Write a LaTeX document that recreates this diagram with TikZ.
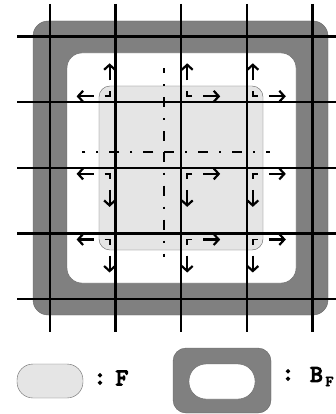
\documentclass[tikz,border=0pt]{standalone}
\usepackage{fontspec}
\newfontfamily\legendfont{lmmono10-regular}[Extension=.otf,FakeBold=5]
\usetikzlibrary{arrows.meta}

\begin{document}
\begin{tikzpicture}[x=1pt,y=-1pt,
  grid line/.style={line width=2.4pt},
  axis line/.style={line width=2.2pt,dash pattern=on 10pt off 11pt on 2pt off 11pt},
  corner mark/.style={line width=1.8pt},
  flow/.style={line width=2.2pt,-{Straight Barb[length=5pt,width=11pt]}},
  legendtext/.style={font=\legendfont\fontsize{24}{24}\selectfont,inner sep=0pt}]
\useasboundingbox (0,0) rectangle (336,414);
% boundary band and domain
\draw[fill=gray,draw=black!60,rounded corners=15pt](33,21) rectangle (328,315);
\draw[fill=white,draw=black!60,rounded corners=15pt](67,53) rectangle (296,283);
\draw[fill=black!10,draw=black!60,rounded corners=11pt](99,86) rectangle (263,250);
% grid
\foreach \i in {0,...,4}{
\draw[grid line]({50+65.6*\i},4)--({50+65.6*\i},332);
\draw[grid line](17,{36.7+65.6*\i})--(336,{36.7+65.6*\i});
}
% symmetry axes
\coordinate (axc) at (164.3,151.7);
\draw[axis line](axc)--(270,151.7);
\draw[axis line](axc)--(164.3,257);
\draw[axis line,dash phase=23pt](axc)--(82,151.7);
\draw[axis line,dash phase=23pt](axc)--(164.3,68);
% corner marks and outward arrows
\foreach \c/\sx in {1/-1,2/1,3/1}
\foreach \r/\sy in {1/-1,2/1,3/1}{
\pgfmathsetmacro\ix{50+65.6*\c}
\pgfmathsetmacro\iy{36.7+65.6*\r}
\draw[corner mark]({\ix+11*\sx},{\iy+6*\sy})--({\ix+6*\sx},{\iy+6*\sy})--({\ix+6*\sx},{\iy+11*\sy});
\draw[flow]({\ix+22*\sx},{\iy+6*\sy})--({\ix+39*\sx},{\iy+6*\sy});
\draw[flow]({\ix+6*\sx},{\iy+22*\sy})--({\ix+6*\sx},{\iy+39*\sy});
}
% legend
\draw[fill=black!10,draw=black!60,rounded corners=16pt](17,364) rectangle (83,398);
\draw[fill=gray,draw=black!60,rounded corners=13pt](173,348) rectangle (271,413);
\draw[fill=white,draw=black!60,rounded corners=17pt](189,364) rectangle (255,399);
\node[legendtext] (colonF) at (100,379) {:};
\node[legendtext] (textF) at (122,378) {F};
\node[legendtext] (colonB) at (288,375) {:};
\node[legendtext] (textB) at (316.5,374.5) {B};
\node[legendtext,font=\legendfont\fontsize{15}{15}\selectfont] (subF) at (329.5,381.5) {F};
\end{tikzpicture}
\end{document}
